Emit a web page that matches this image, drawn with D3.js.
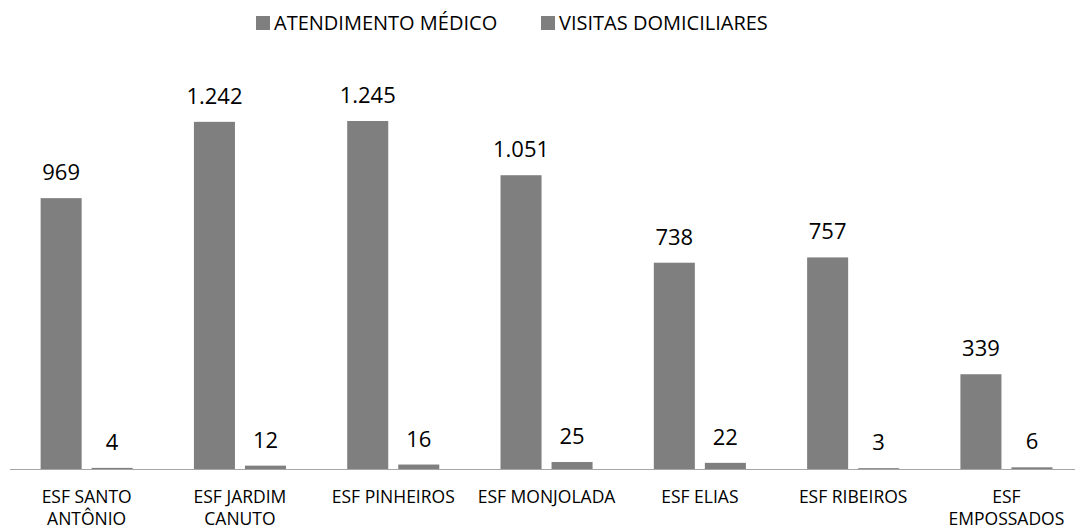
<!DOCTYPE html>
<html>
<head>
<meta charset="utf-8">
<script src="https://cdn.jsdelivr.net/npm/d3@7"></script>
<style>
  body { margin: 0; background: #fff; }
  svg text { font-family: "Open Sans", sans-serif; fill: #000; }
</style>
</head>
<body>
<div id="chart"></div>
<script>
// dados do gráfico
const categorias = [
  ["ESF SANTO", "ANTÔNIO"],
  ["ESF JARDIM", "CANUTO"],
  ["ESF PINHEIROS"],
  ["ESF MONJOLADA"],
  ["ESF ELIAS"],
  ["ESF RIBEIROS"],
  ["ESF", "EMPOSSADOS"]
];
const series = ["ATENDIMENTO MÉDICO", "VISITAS DOMICILIARES"];
const atendimento = [969, 1242, 1245, 1051, 738, 757, 339];
const visitas = [4, 12, 16, 25, 22, 3, 6];
const rotulosAtend = ["969", "1.242", "1.245", "1.051", "738", "757", "339"];
const rotulosVisitas = ["4", "12", "16", "25", "22", "3", "6"];

const width = 1075, height = 532;
const base = 469;
const cor = "#7f7f7f";

const svg = d3.select("#chart").append("svg")
  .attr("width", width)
  .attr("height", height);

const idx = d3.range(categorias.length);

// escala x por categoria
const x = d3.scaleBand()
  .domain(idx)
  .range([10, 10 + 153.3 * categorias.length]);

// escala das duas barras dentro do grupo
const xs = d3.scaleBand()
  .domain([0, 1])
  .range([0, x.bandwidth()])
  .paddingInner(0.196)
  .paddingOuter(0.6);

const y = d3.scaleLinear()
  .domain([0, 1245])
  .range([base, 121]);

const dados = idx.map(i => [
  { s: 0, i, v: atendimento[i], t: rotulosAtend[i] },
  { s: 1, i, v: visitas[i], t: rotulosVisitas[i] }
]);

const grupos = svg.selectAll("g.grupo")
  .data(dados)
  .join("g")
  .attr("class", "grupo")
  .attr("transform", (d, i) => `translate(${x(i)},0)`);

grupos.selectAll("rect")
  .data(d => d)
  .join("rect")
  .attr("x", d => xs(d.s))
  .attr("width", xs.bandwidth())
  .attr("y", d => y(d.v))
  .attr("height", d => base - y(d.v))
  .attr("fill", cor);

grupos.selectAll("text.valor")
  .data(d => d)
  .join("text")
  .attr("class", "valor")
  .attr("x", d => xs(d.s) + xs.bandwidth() / 2)
  .attr("y", d => y(d.v) - 18)
  .attr("text-anchor", "middle")
  .attr("font-size", 22)
  .text(d => d.t);

// eixo
svg.append("line")
  .attr("x1", 10).attr("x2", width)
  .attr("y1", base + 0.5).attr("y2", base + 0.5)
  .attr("stroke", "#a6a6a6")
  .attr("stroke-width", 1);

// rótulos das categorias
const rot = svg.selectAll("text.cat")
  .data(categorias)
  .join("text")
  .attr("class", "cat")
  .attr("text-anchor", "middle")
  .attr("font-size", 17.5)
  .attr("y", 503);

rot.selectAll("tspan")
  .data((d, i) => d.map(l => ({ l, i })))
  .join("tspan")
  .attr("x", d => x(d.i) + x.bandwidth() / 2)
  .attr("dy", (d, j) => j === 0 ? 0 : 22)
  .text(d => d.l);

// legenda
const legX = [256, 541];
const leg = svg.selectAll("g.leg")
  .data(series)
  .join("g")
  .attr("class", "leg")
  .attr("transform", (d, i) => `translate(${legX[i]},0)`);

leg.append("rect")
  .attr("x", 0).attr("y", 16)
  .attr("width", 14).attr("height", 14)
  .attr("fill", cor);

leg.append("text")
  .attr("x", 18)
  .attr("y", 30)
  .attr("font-size", 20)
  .text(d => d);
</script>
</body>
</html>
